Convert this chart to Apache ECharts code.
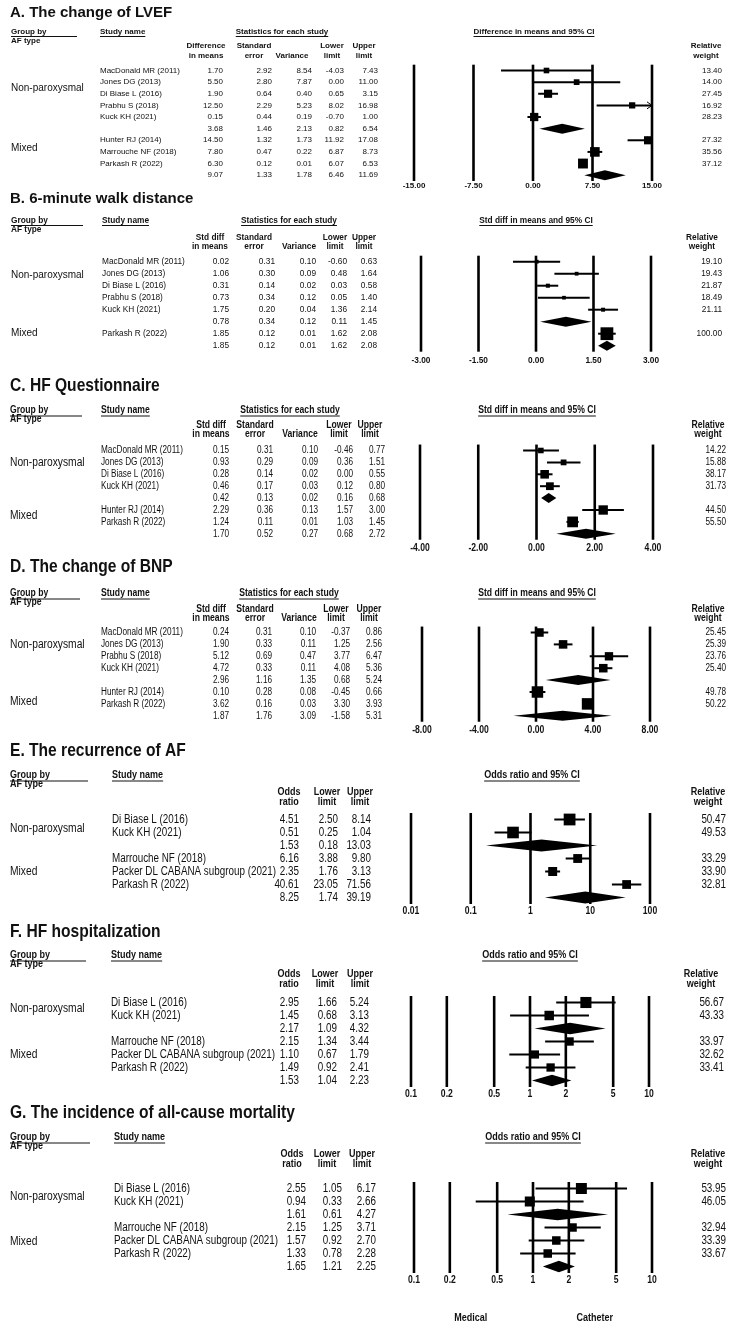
<!DOCTYPE html>
<html><head><meta charset="utf-8">
<script src="https://cdn.jsdelivr.net/npm/echarts@6/dist/echarts.min.js"></script>
<style>html,body{margin:0;padding:0;background:#fff}#c{width:730px;height:1329px}</style>
</head><body><div id="c"></div>
<script>
// ---------------- DATA ----------------
// A. LVEF (difference in means)
const lvefGroups = ['Non-paroxysmal', 'Mixed'];
const lvefStudies = ['MacDonald MR (2011)', 'Jones DG (2013)', 'Di Biase L (2016)', 'Prabhu S (2018)', 'Kuck KH (2021)', '', 'Hunter RJ (2014)', 'Marrouche NF (2018)', 'Parkash R (2022)', ''];
const lvefDiff = [1.70, 5.50, 1.90, 12.50, 0.15, 3.68, 14.50, 7.80, 6.30, 9.07];
const lvefSE = [2.92, 2.80, 0.64, 2.29, 0.44, 1.46, 1.32, 0.47, 0.12, 1.33];
const lvefVar = [8.54, 7.87, 0.40, 5.23, 0.19, 2.13, 1.73, 0.22, 0.01, 1.78];
const lvefLower = [-4.03, 0.00, 0.65, 8.02, -0.70, 0.82, 11.92, 6.87, 6.07, 6.46];
const lvefUpper = [7.43, 11.00, 3.15, 16.98, 1.00, 6.54, 17.08, 8.73, 6.53, 11.69];
const lvefWeight = [13.40, 14.00, 27.45, 16.92, 28.23, null, 27.32, 35.56, 37.12, null];
const lvefTicks = [-15, -7.5, 0, 7.5, 15];
const lvefTickLabels = ['-15.00', '-7.50', '0.00', '7.50', '15.00'];

// B. 6-minute walk distance
const walkGroups = ['Non-paroxysmal', 'Mixed'];
const walkStudies = ['MacDonald MR (2011)', 'Jones DG (2013)', 'Di Biase L (2016)', 'Prabhu S (2018)', 'Kuck KH (2021)', '', 'Parkash R (2022)', ''];
const walkSMD = [0.02, 1.06, 0.31, 0.73, 1.75, 0.78, 1.85, 1.85];
const walkSE = [0.31, 0.30, 0.14, 0.34, 0.20, 0.34, 0.12, 0.12];
const walkVar = [0.10, 0.09, 0.02, 0.12, 0.04, 0.12, 0.01, 0.01];
const walkLower = [-0.60, 0.48, 0.03, 0.05, 1.36, 0.11, 1.62, 1.62];
const walkUpper = [0.63, 1.64, 0.58, 1.40, 2.14, 1.45, 2.08, 2.08];
const walkWeight = [19.10, 19.43, 21.87, 18.49, 21.11, null, 100.00, null];
const walkTicks = [-3, -1.5, 0, 1.5, 3];
const walkTickLabels = ['-3.00', '-1.50', '0.00', '1.50', '3.00'];

// C. HF Questionnaire
const hfqGroups = ['Non-paroxysmal', 'Mixed'];
const hfqStudies = ['MacDonald MR (2011)', 'Jones DG (2013)', 'Di Biase L (2016)', 'Kuck KH (2021)', '', 'Hunter RJ (2014)', 'Parkash R (2022)', ''];
const hfqSMD = [0.15, 0.93, 0.28, 0.46, 0.42, 2.29, 1.24, 1.70];
const hfqSE = [0.31, 0.29, 0.14, 0.17, 0.13, 0.36, 0.11, 0.52];
const hfqVar = [0.10, 0.09, 0.02, 0.03, 0.02, 0.13, 0.01, 0.27];
const hfqLower = [-0.46, 0.36, 0.00, 0.12, 0.16, 1.57, 1.03, 0.68];
const hfqUpper = [0.77, 1.51, 0.55, 0.80, 0.68, 3.00, 1.45, 2.72];
const hfqWeight = [14.22, 15.88, 38.17, 31.73, null, 44.50, 55.50, null];
const hfqTicks = [-4, -2, 0, 2, 4];
const hfqTickLabels = ['-4.00', '-2.00', '0.00', '2.00', '4.00'];

// D. BNP
const bnpGroups = ['Non-paroxysmal', 'Mixed'];
const bnpStudies = ['MacDonald MR (2011)', 'Jones DG (2013)', 'Prabhu S (2018)', 'Kuck KH (2021)', '', 'Hunter RJ (2014)', 'Parkash R (2022)', ''];
const bnpSMD = [0.24, 1.90, 5.12, 4.72, 2.96, 0.10, 3.62, 1.87];
const bnpSE = [0.31, 0.33, 0.69, 0.33, 1.16, 0.28, 0.16, 1.76];
const bnpVar = [0.10, 0.11, 0.47, 0.11, 1.35, 0.08, 0.03, 3.09];
const bnpLower = [-0.37, 1.25, 3.77, 4.08, 0.68, -0.45, 3.30, -1.58];
const bnpUpper = [0.86, 2.56, 6.47, 5.36, 5.24, 0.66, 3.93, 5.31];
const bnpWeight = [25.45, 25.39, 23.76, 25.40, null, 49.78, 50.22, null];
const bnpTicks = [-8, -4, 0, 4, 8];
const bnpTickLabels = ['-8.00', '-4.00', '0.00', '4.00', '8.00'];

// E. Recurrence of AF (odds ratio)
const orStudies = ['Di Biase L (2016)', 'Kuck KH (2021)', '', 'Marrouche NF (2018)', 'Packer DL CABANA subgroup (2021)', 'Parkash R (2022)', ''];
const orGroups = ['Non-paroxysmal', 'Mixed'];
const afOR = [4.51, 0.51, 1.53, 6.16, 2.35, 40.61, 8.25];
const afLower = [2.50, 0.25, 0.18, 3.88, 1.76, 23.05, 1.74];
const afUpper = [8.14, 1.04, 13.03, 9.80, 3.13, 71.56, 39.19];
const afWeight = [50.47, 49.53, null, 33.29, 33.90, 32.81, null];
const afTicks = [0.01, 0.1, 1, 10, 100];
const afTickLabels = ['0.01', '0.1', '1', '10', '100'];

// F. HF hospitalization
const hospOR = [2.95, 1.45, 2.17, 2.15, 1.10, 1.49, 1.53];
const hospLower = [1.66, 0.68, 1.09, 1.34, 0.67, 0.92, 1.04];
const hospUpper = [5.24, 3.13, 4.32, 3.44, 1.79, 2.41, 2.23];
const hospWeight = [56.67, 43.33, null, 33.97, 32.62, 33.41, null];
const hospTicks = [0.1, 0.2, 0.5, 1, 2, 5, 10];
const hospTickLabels = ['0.1', '0.2', '0.5', '1', '2', '5', '10'];

// G. All-cause mortality
const mortOR = [2.55, 0.94, 1.61, 2.15, 1.57, 1.33, 1.65];
const mortLower = [1.05, 0.33, 0.61, 1.25, 0.92, 0.78, 1.21];
const mortUpper = [6.17, 2.66, 4.27, 3.71, 2.70, 2.28, 2.25];
const mortWeight = [53.95, 46.05, null, 32.94, 33.39, 33.67, null];
const mortTicks = [0.1, 0.2, 0.5, 1, 2, 5, 10];
const mortTickLabels = ['0.1', '0.2', '0.5', '1', '2', '5', '10'];

const favourLabels = ['Medical', 'Catheter'];

// ---------------- FONTS ----------------
const FA = "'Liberation Sans', Arial, sans-serif";
const mctx = document.createElement('canvas').getContext('2d');
function fontOK(n) {
  const s = 'abcdefghijklmnopqrstuvwxyz0123456789';
  mctx.font = '40px monospace'; const a = mctx.measureText(s).width;
  mctx.font = "40px '" + n + "', monospace"; const b = mctx.measureText(s).width;
  return Math.abs(a - b) > 1;
}
const HAS_N = fontOK('Liberation Sans Narrow');
const FN = HAS_N ? "'Liberation Sans Narrow', sans-serif" : FA;
const NSX = HAS_N ? 1 : 0.82;
const INK = '#111';

function T(x, y, s, o) {
  return { type: 'text', x: x, y: y, scaleX: o.sx, silent: true,
    style: { text: s, x: 0, y: 0, fontSize: o.size, fontFamily: o.fam, fontWeight: o.bold ? 'bold' : 'normal',
      fill: INK, align: o.align || 'left', verticalAlign: 'middle' } };
}
function measure(s, o) {
  mctx.font = (o.bold ? 'bold ' : '') + o.size + 'px ' + o.fam;
  return mctx.measureText(s).width * o.sx;
}

// ---------------- PANELS ----------------
const statHeads = [['Std diff', 'in means'], ['Standard', 'error'], ['', 'Variance'], ['Lower', 'limit'], ['Upper', 'limit']];
const orHeads = [['Odds', 'ratio'], ['Lower', 'limit'], ['Upper', 'limit']];

const panels = [
  { title: 'A. The change of LVEF', narrow: false, stat: true, ci: 'Difference in means and 95% CI', log: false,
    heads: [['Difference', 'in means'], ['Standard', 'error'], ['', 'Variance'], ['Lower', 'limit'], ['Upper', 'limit']],
    groups: lvefGroups, studies: lvefStudies, cols: [lvefDiff, lvefSE, lvefVar, lvefLower, lvefUpper],
    est: lvefDiff, low: lvefLower, up: lvefUpper, weight: lvefWeight, ticks: lvefTicks, tickLabels: lvefTickLabels,
    L: { titleY: 13, headY: 31.5, afY: 40.5, colY: [46, 55.5], rowTop: 70.5, rowH: 11.63, plotL: 414, plotR: 652,
      groupX: 11, groupUL: [11, 77], studyX: 100, statC: 282, ciC: 534, rights: [223, 272, 312, 344, 378], headC: [206, 254, 292, 332, 364],
      wRight: 722, wHead: 706, titleSize: 15, headSize: 8, tableSize: 8, groupSize: 10, tickSize: 8, tickOff: 4.5,
      groupRows: [1.5, 6.7], boxA: 3.2, boxB: 0.18, diaH: 10, ciW: 2, tickW: 2.6, ulOff: 5 } },
  { title: 'B. 6-minute walk distance', narrow: false, stat: true, ci: 'Std diff in means and 95% CI', log: false,
    heads: statHeads, groups: walkGroups, studies: walkStudies, cols: [walkSMD, walkSE, walkVar, walkLower, walkUpper],
    est: walkSMD, low: walkLower, up: walkUpper, weight: walkWeight, ticks: walkTicks, tickLabels: walkTickLabels,
    L: { titleY: 198.5, headY: 220.5, afY: 229.5, colY: [237.5, 246.5], rowTop: 261.7, rowH: 12, plotL: 421, plotR: 651,
      groupX: 11, groupUL: [11, 83], studyX: 102, statC: 289, ciC: 536, rights: [229, 275, 316, 347, 377], headC: [210, 254, 299, 335, 364],
      wRight: 722, wHead: 702, titleSize: 15, headSize: 8.3, tableSize: 8.3, groupSize: 10, tickSize: 8.3, tickOff: 9,
      groupRows: [1.1, 6], boxA: 1.6, boxB: 0.112, diaH: 10, ciW: 2, tickW: 2.6, ulOff: 5 } },
  { title: 'C. HF Questionnaire', narrow: true, stat: true, ci: 'Std diff in means and 95% CI', log: false,
    heads: statHeads, groups: hfqGroups, studies: hfqStudies, cols: [hfqSMD, hfqSE, hfqVar, hfqLower, hfqUpper],
    est: hfqSMD, low: hfqLower, up: hfqUpper, weight: hfqWeight, ticks: hfqTicks, tickLabels: hfqTickLabels,
    L: { titleY: 386, headY: 410, afY: 419.5, colY: [425, 434.5], rowTop: 450.5, rowH: 11.9, plotL: 420, plotR: 653,
      groupX: 10, groupUL: [10, 82], studyX: 101, statC: 290, ciC: 537, rights: [229, 273, 318, 353, 385], headC: [211, 255, 300, 339, 370],
      wRight: 726, wHead: 708, titleSize: 19, headSize: 10.5, tableSize: 10, groupSize: 12.5, tickSize: 10.5, tickOff: 8,
      groupRows: [1, 5.5], boxA: 3.8, boxB: 0.125, diaH: 10, ciW: 2, tickW: 2.6, ulOff: 6 } },
  { title: 'D. The change of BNP', narrow: true, stat: true, ci: 'Std diff in means and 95% CI', log: false,
    heads: statHeads, groups: bnpGroups, studies: bnpStudies, cols: [bnpSMD, bnpSE, bnpVar, bnpLower, bnpUpper],
    est: bnpSMD, low: bnpLower, up: bnpUpper, weight: bnpWeight, ticks: bnpTicks, tickLabels: bnpTickLabels,
    L: { titleY: 567, headY: 593, afY: 602, colY: [609, 618], rowTop: 632.5, rowH: 11.9, plotL: 422, plotR: 650,
      groupX: 10, groupUL: [10, 80], studyX: 101, statC: 289, ciC: 537, rights: [229, 272, 316, 350, 382], headC: [211, 255, 299, 336, 369],
      wRight: 726, wHead: 708, titleSize: 19, headSize: 10.5, tableSize: 10, groupSize: 12.5, tickSize: 10.5, tickOff: 8,
      groupRows: [1, 5.8], boxA: 5.5, boxB: 0.12, diaH: 10, ciW: 2, tickW: 2.6, ulOff: 6 } },
  { title: 'E. The recurrence of AF', narrow: true, stat: false, ci: 'Odds ratio and 95% CI', log: true,
    heads: orHeads, groups: orGroups, studies: orStudies, cols: [afOR, afLower, afUpper],
    est: afOR, low: afLower, up: afUpper, weight: afWeight, ticks: afTicks, tickLabels: afTickLabels,
    L: { titleY: 751, headY: 775, afY: 784, colY: [792, 802], rowTop: 819.5, rowH: 13, plotL: 411, plotR: 650,
      groupX: 10, groupUL: [10, 88], studyX: 112, ciC: 532, rights: [299, 338, 371], headC: [289, 327, 360],
      wRight: 726, wHead: 708, titleSize: 19, headSize: 11, tableSize: 12, groupSize: 12.5, tickSize: 10.5, tickOff: 7.5,
      groupRows: [0.7, 4], boxA: 3.2, boxB: 0.17, diaH: 12, ciW: 2, tickW: 2.6, ulOff: 6 } },
  { title: 'F. HF hospitalization', narrow: true, stat: false, ci: 'Odds ratio and 95% CI', log: true,
    heads: orHeads, groups: orGroups, studies: orStudies, cols: [hospOR, hospLower, hospUpper],
    est: hospOR, low: hospLower, up: hospUpper, weight: hospWeight, ticks: hospTicks, tickLabels: hospTickLabels,
    L: { titleY: 932, headY: 955, afY: 964, colY: [973.5, 983.5], rowTop: 1002.5, rowH: 13, plotL: 411, plotR: 649,
      groupX: 10, groupUL: [10, 86], studyX: 111, ciC: 530, rights: [299, 337, 369], headC: [289, 325, 360],
      wRight: 724, wHead: 701, titleSize: 19, headSize: 11, tableSize: 12, groupSize: 12.5, tickSize: 10.5, tickOff: 7.5,
      groupRows: [0.5, 4], boxA: 4.3, boxB: 0.12, diaH: 11.5, ciW: 2, tickW: 2.6, ulOff: 6 } },
  { title: 'G. The incidence of all-cause mortality', narrow: true, stat: false, ci: 'Odds ratio and 95% CI', log: true,
    heads: orHeads, groups: orGroups, studies: orStudies, cols: [mortOR, mortLower, mortUpper],
    est: mortOR, low: mortLower, up: mortUpper, weight: mortWeight, ticks: mortTicks, tickLabels: mortTickLabels,
    L: { titleY: 1113, headY: 1137, afY: 1146, colY: [1154, 1163.5], rowTop: 1188.5, rowH: 13, plotL: 414, plotR: 652,
      groupX: 10, groupUL: [10, 90], studyX: 114, ciC: 533, rights: [306, 342, 376], headC: [292, 327, 362],
      wRight: 726, wHead: 708, titleSize: 19, headSize: 11, tableSize: 12, groupSize: 12.5, tickSize: 10.5, tickOff: 7.5,
      groupRows: [0.6, 4.1], boxA: 4.5, boxB: 0.12, diaH: 11.5, ciW: 2, tickW: 2.6, ulOff: 6 } }
];
const favourY = 1318;

// ---------------- BUILD ----------------
const grids = [], xAxes = [], yAxes = [], series = [], graphics = [];

panels.forEach(function (p, pi) {
  const L = p.L;
  p.fam = p.narrow ? FN : FA;
  p.sx = p.narrow ? NSX : 1;
  p.min = p.ticks[0];
  p.max = p.ticks[p.ticks.length - 1];
  const n = p.studies.length;
  grids.push({ left: L.plotL, top: L.rowTop - L.rowH / 2, width: L.plotR - L.plotL, height: L.rowH * n });
  xAxes.push(p.log ? { gridIndex: pi, type: 'log', logBase: 10, min: p.min, max: p.max, show: false }
                   : { gridIndex: pi, type: 'value', min: p.min, max: p.max, show: false });
  yAxes.push({ gridIndex: pi, type: 'category', inverse: true, show: false, data: p.studies.map(function (_, k) { return String(k); }) });

  // headers (static text)
  const hb = { size: L.headSize, fam: p.fam, sx: p.sx, bold: true };
  graphics.push(T(10, L.titleY, p.title, { size: L.titleSize, fam: p.fam, sx: p.sx, bold: true }));
  graphics.push(T(L.groupX, L.headY, 'Group by', hb));
  graphics.push({ type: 'line', silent: true, shape: { x1: L.groupUL[0], y1: L.headY + L.ulOff, x2: L.groupUL[1], y2: L.headY + L.ulOff }, style: { stroke: INK, lineWidth: 1 } });
  graphics.push(T(L.groupX, L.afY, 'AF type', hb));
  const sw = measure('Study name', hb);
  graphics.push(T(L.studyX, L.headY, 'Study name', hb));
  graphics.push({ type: 'line', silent: true, shape: { x1: L.studyX, y1: L.headY + L.ulOff, x2: L.studyX + sw, y2: L.headY + L.ulOff }, style: { stroke: INK, lineWidth: 1 } });
  function centeredUL(text, cx) {
    const w = measure(text, hb);
    graphics.push(T(cx, L.headY, text, Object.assign({}, hb, { align: 'center' })));
    graphics.push({ type: 'line', silent: true, shape: { x1: cx - w / 2, y1: L.headY + L.ulOff, x2: cx + w / 2, y2: L.headY + L.ulOff }, style: { stroke: INK, lineWidth: 1 } });
  }
  if (p.stat) centeredUL('Statistics for each study', L.statC);
  centeredUL(p.ci, L.ciC);
  p.heads.forEach(function (h, j) {
    if (h[0]) graphics.push(T(L.headC[j], L.colY[0], h[0], Object.assign({}, hb, { align: 'center' })));
    if (h[1]) graphics.push(T(L.headC[j], L.colY[1], h[1], Object.assign({}, hb, { align: 'center' })));
  });
  graphics.push(T(L.wHead, L.colY[0], 'Relative', Object.assign({}, hb, { align: 'center' })));
  graphics.push(T(L.wHead, L.colY[1], 'weight', Object.assign({}, hb, { align: 'center' })));

  const rowData = p.studies.map(function (_, k) { return [p.min, k]; });

  // vertical reference lines + tick labels
  series.push({
    type: 'custom', coordinateSystem: 'cartesian2d', xAxisIndex: pi, yAxisIndex: pi, clip: false, silent: true, z: 1,
    encode: { x: 0, y: 1 },
    data: p.ticks.map(function (v) { return [v, 0]; }),
    renderItem: function (params, api) {
      const k = params.dataIndex;
      const x = api.coord([p.ticks[k], 0])[0];
      const cs = params.coordSys;
      return { type: 'group', children: [
        { type: 'line', shape: { x1: x, y1: cs.y, x2: x, y2: cs.y + cs.height }, style: { stroke: '#000', lineWidth: L.tickW } },
        T(x, cs.y + cs.height + L.tickOff, p.tickLabels[k], { size: L.tickSize, fam: p.fam, sx: p.sx, bold: true, align: 'center' })
      ] };
    }
  });

  // forest marks
  series.push({
    type: 'custom', coordinateSystem: 'cartesian2d', xAxisIndex: pi, yAxisIndex: pi, clip: false, silent: true, z: 2,
    encode: { x: 0, y: 1 },
    data: rowData,
    renderItem: function (params, api) {
      const i = params.dataIndex;
      const y = api.coord([p.min, i])[1];
      const cx = function (v) { return api.coord([Math.min(Math.max(v, p.min), p.max), i])[0]; };
      const xl = cx(p.low[i]), xu = cx(p.up[i]), xe = cx(p.est[i]);
      const ch = [];
      if (!p.studies[i]) {
        const h = L.diaH / 2;
        ch.push({ type: 'polygon', shape: { points: [[xl, y], [xe, y - h], [xu, y], [xe, y + h]] }, style: { fill: '#000' } });
      } else {
        ch.push({ type: 'line', shape: { x1: xl, y1: y, x2: xu, y2: y }, style: { stroke: '#000', lineWidth: L.ciW } });
        if (p.up[i] > p.max) ch.push({ type: 'polyline', shape: { points: [[xu - 5, y - 3.5], [xu, y], [xu - 5, y + 3.5]] }, style: { stroke: '#000', lineWidth: 1, fill: null } });
        if (p.low[i] < p.min) ch.push({ type: 'polyline', shape: { points: [[xl + 5, y - 3.5], [xl, y], [xl + 5, y + 3.5]] }, style: { stroke: '#000', lineWidth: 1, fill: null } });
        const s = L.boxA + L.boxB * p.weight[i];
        ch.push({ type: 'rect', shape: { x: xe - s / 2, y: y - s / 2, width: s, height: s }, style: { fill: '#000' } });
      }
      return { type: 'group', children: ch };
    }
  });

  // table text (rows aligned to the category scale)
  series.push({
    type: 'custom', coordinateSystem: 'cartesian2d', xAxisIndex: pi, yAxisIndex: pi, clip: false, silent: true, z: 3,
    encode: { x: 0, y: 1 },
    data: rowData,
    renderItem: function (params, api) {
      const i = params.dataIndex;
      const y = api.coord([p.min, i])[1];
      const o = { size: L.tableSize, fam: p.fam, sx: p.sx };
      const ch = [];
      if (p.studies[i]) ch.push(T(L.studyX, y, p.studies[i], o));
      p.cols.forEach(function (col, j) {
        ch.push(T(L.rights[j], y, col[i].toFixed(2), Object.assign({}, o, { align: 'right' })));
      });
      if (p.weight[i] != null) ch.push(T(L.wRight, y, p.weight[i].toFixed(2), Object.assign({}, o, { align: 'right' })));
      if (i === 0) {
        const rh = api.coord([p.min, 1])[1] - y;
        p.groups.forEach(function (g, k) {
          ch.push(T(L.groupX, y + L.groupRows[k] * rh, g, Object.assign({}, o, { size: L.groupSize })));
        });
      }
      return { type: 'group', children: ch };
    }
  });
});

// favours labels under panel G, placed on its scale
(function () {
  const p = panels[6];
  series.push({
    type: 'custom', coordinateSystem: 'cartesian2d', xAxisIndex: 6, yAxisIndex: 6, clip: false, silent: true, z: 3,
    encode: { x: 0, y: 1 },
    data: [[0.3, 0], [3.3, 0]],
    renderItem: function (params, api) {
      const k = params.dataIndex;
      const x = api.coord([api.value(0), 0])[0];
      return T(x, favourY, favourLabels[k], { size: 11, fam: p.fam, sx: p.sx, bold: true, align: 'center' });
    }
  });
})();

const chart = echarts.init(document.getElementById('c'), null, { renderer: 'canvas', width: 730, height: 1329 });
chart.setOption({
  backgroundColor: '#fff',
  animation: false,
  grid: grids,
  xAxis: xAxes,
  yAxis: yAxes,
  series: series,
  graphic: { elements: graphics }
});
</script></body></html>
